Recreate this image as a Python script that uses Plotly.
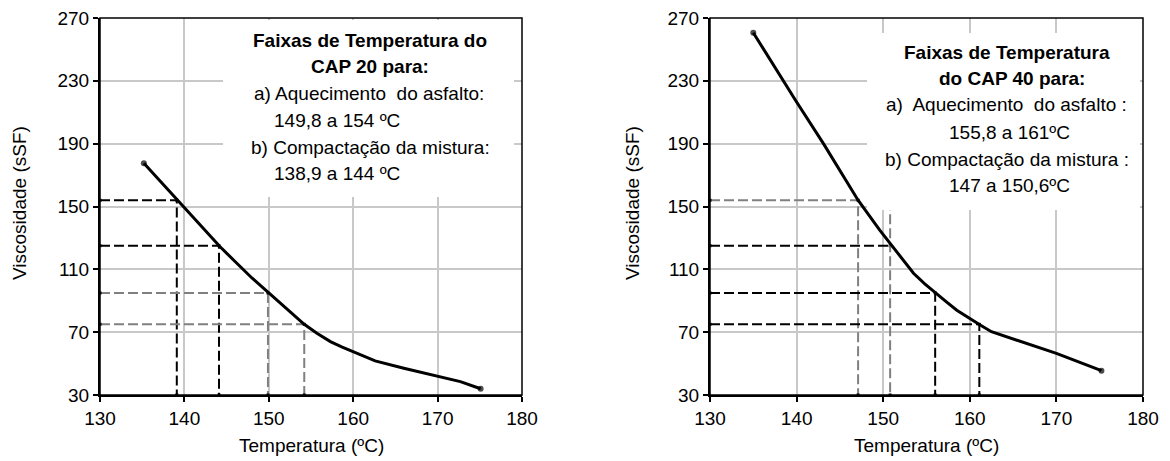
import plotly.graph_objects as go

# ---------------- data ----------------
# CAP 20 viscosity curve
temp_cap20 = [135.2, 139.2, 144.2, 146.0, 148.0, 150.0, 152.0, 154.2, 155.7, 157.3, 158.7,
              160.0, 161.3, 162.6, 166.0, 170.0, 172.7, 175.1]
visc_cap20 = [177.5, 154.0, 124.5, 115.0, 104.5, 95.0, 85.5, 75.0, 69.3, 64.0, 60.5,
              57.6, 54.5, 51.7, 47.0, 41.7, 38.5, 34.0]

# CAP 40 viscosity curve
temp_cap40 = [135.0, 138.4, 140.0, 143.1, 147.1, 149.6, 151.0, 152.3, 153.5, 154.8, 156.0,
              157.3, 158.5, 159.9, 161.2, 162.5, 170.0, 175.2]
visc_cap40 = [260.6, 230.0, 216.5, 190.0, 154.0, 135.0, 125.0, 116.0, 107.5, 100.8, 95.0,
              89.3, 84.0, 79.0, 74.6, 70.3, 56.5, 45.5]

# reference (dashed) lines: viscosity level, temperature, colour group
ref20_visc = [154, 125, 95, 75]
ref20_temp = [139.1, 144.1, 149.9, 154.2]
ref20_color = ["black", "black", "gray", "gray"]

ref40_visc = [154, 125, 95, 75]
ref40_temp = [147.1, 150.8, 156.0, 161.1]
ref40_hcolor = ["gray", "black", "black", "black"]
ref40_vcolor = ["gray", "gray", "black", "black"]

x_ticks = [130, 140, 150, 160, 170, 180]
y_ticks = [30, 70, 110, 150, 190, 230, 270]

text_cap20 = ["<b>Faixas de Temperatura do</b>", "<b>CAP 20 para:</b>",
              "a) Aquecimento  do asfalto:", "149,8 a 154 ºC",
              "b) Compactação da mistura:", "138,9 a 144 ºC"]
text_cap40 = ["<b>Faixas de Temperatura</b>", "<b>do CAP 40 para:</b>",
              "a)  Aquecimento  do asfalto :", "155,8 a 161ºC",
              "b) Compactação da mistura :", "147 a 150,6ºC"]

# ---------------- figure ----------------
W, H = 1170, 461
FONT = "Arial, Liberation Sans, sans-serif"
FS = 19
GRAY = "#808080"

fig = go.Figure()

def curve(x, y, xa, ya):
    sizes = [6] + [0] * (len(x) - 2) + [6]
    fig.add_trace(go.Scatter(x=x, y=y, xaxis=xa, yaxis=ya, mode="lines+markers",
                             line=dict(color="black", width=3),
                             marker=dict(size=sizes, color="black", line=dict(width=0)),
                             showlegend=False, hoverinfo="skip"))

def dashed(xs, ys, color, xa, ya):
    fig.add_trace(go.Scatter(x=xs, y=ys, xaxis=xa, yaxis=ya, mode="lines+markers",
                             line=dict(color="black" if color == "black" else GRAY, width=2,
                                       dash="10px,4px"),
                             marker=dict(size=3, color="black", symbol="square"),
                             showlegend=False, hoverinfo="skip"))

# CAP 20 dashed lines
for v, t, c in zip(ref20_visc, ref20_temp, ref20_color):
    dashed([x_ticks[0], t, t], [v, v, y_ticks[0]], c, "x", "y")

# CAP 40 dashed lines
for v, t, hc, vc in zip(ref40_visc, ref40_temp, ref40_hcolor, ref40_vcolor):
    if hc == vc:
        dashed([x_ticks[0], t, t], [v, v, y_ticks[0]], hc, "x2", "y2")
    else:
        dashed([x_ticks[0], t], [v, v], hc, "x2", "y2")
        dashed([t, t], [ref40_visc[0], y_ticks[0]], vc, "x2", "y2")

curve(temp_cap20, visc_cap20, "x", "y")
curve(temp_cap40, visc_cap40, "x2", "y2")

def px_x(p):
    return p / W

def px_y(p):
    return 1 - p / H

ydom = [px_y(395), px_y(18)]
axis_common = dict(showline=True, linecolor="black", linewidth=2, ticks="outside",
                   ticklen=5, tickwidth=1.5, tickcolor="black", showgrid=True,
                   gridcolor="#c8c8c8", gridwidth=1.5, zeroline=False, automargin=False,
                   tickfont=dict(size=FS, color="black", family=FONT))

fig.update_layout(
    width=W, height=H, margin=dict(l=0, r=0, t=0, b=0, pad=0, autoexpand=False),
    autosize=False,
    paper_bgcolor="white", plot_bgcolor="white",
    font=dict(family=FONT, size=FS, color="black"),
    xaxis=dict(domain=[px_x(100), px_x(522)], range=[130, 180], tickvals=x_ticks,
               anchor="y", **axis_common),
    yaxis=dict(domain=ydom, range=[30, 270], tickvals=y_ticks, anchor="x", **axis_common),
    xaxis2=dict(domain=[px_x(710), px_x(1143)], range=[130, 180], tickvals=x_ticks,
                anchor="y2", **axis_common),
    yaxis2=dict(domain=ydom, range=[30, 270], tickvals=y_ticks, anchor="x2", **axis_common),
)

shapes = []
# white text boxes
shapes.append(dict(type="rect", xref="paper", yref="paper",
                   x0=px_x(223), x1=px_x(514), y0=px_y(197), y1=px_y(20),
                   fillcolor="white", line=dict(width=0), layer="above"))
shapes.append(dict(type="rect", xref="paper", yref="paper",
                   x0=px_x(867), x1=px_x(1140), y0=px_y(210), y1=px_y(33),
                   fillcolor="white", line=dict(width=0), layer="above"))
# plot frames
for xr, yr in [("x domain", "y domain"), ("x2 domain", "y2 domain")]:
    shapes.append(dict(type="rect", xref=xr, yref=yr, x0=0, x1=1, y0=0, y1=1,
                       line=dict(color="black", width=1.5), fillcolor="rgba(0,0,0,0)",
                       layer="above"))
fig.update_layout(shapes=shapes)

ann = []
# axis titles
for cx in [311, 926]:
    ann.append(dict(text="Temperatura (ºC)", x=px_x(cx), y=px_y(445), xref="paper", yref="paper",
                    showarrow=False, xanchor="center", yanchor="middle",
                    font=dict(size=FS, family=FONT, color="black")))
for cx in [20, 633]:
    ann.append(dict(text="Viscosidade (sSF)", x=px_x(cx), y=px_y(203), xref="paper", yref="paper",
                    showarrow=False, xanchor="center", yanchor="middle", textangle=-90,
                    font=dict(size=FS, family=FONT, color="black")))

left_pos = [(370, 40), (370, 67), (369, 94), (337, 120), (370, 147), (337, 173)]
right_pos = [(1007, 52), (1012, 78), (1006, 105), (1009, 132), (1007, 159), (1009, 185)]
for txt, (cx, cy) in zip(text_cap20, left_pos):
    ann.append(dict(text=txt, x=px_x(cx), y=px_y(cy), xref="paper", yref="paper",
                    showarrow=False, xanchor="center", yanchor="middle",
                    font=dict(size=FS, family=FONT, color="black")))
for txt, (cx, cy) in zip(text_cap40, right_pos):
    ann.append(dict(text=txt, x=px_x(cx), y=px_y(cy), xref="paper", yref="paper",
                    showarrow=False, xanchor="center", yanchor="middle",
                    font=dict(size=FS, family=FONT, color="black")))
fig.update_layout(annotations=ann)

fig.write_html("out.html")
